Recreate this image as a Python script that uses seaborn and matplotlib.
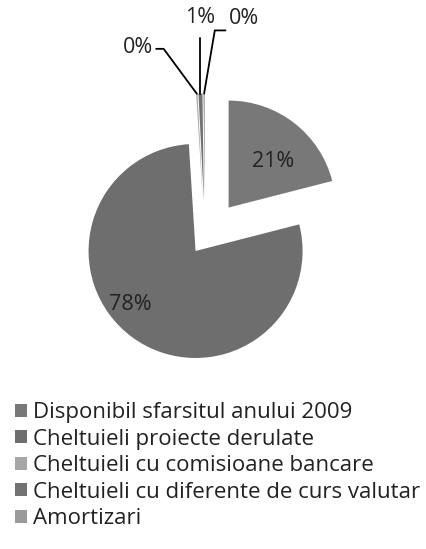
import numpy as np
import matplotlib
matplotlib.use("Agg")
import matplotlib.pyplot as plt
import seaborn as sns

categorii = ["Disponibil sfarsitul anului 2009",
             "Cheltuieli proiecte derulate",
             "Cheltuieli cu comisioane bancare",
             "Cheltuieli cu diferente de curs valutar",
             "Amortizari"]
valori = [21.0, 78.0, 0.2, 0.6, 0.2]
culori = ["#787878", "#6e6e6e", "#a6a6a6", "#727272", "#9a9a9a"]
explodare = [0.36, 0.15, 0.35, 0.35, 0.35]

sns.set_style("white")
plt.rcParams['font.family'] = ['Open Sans', 'DejaVu Sans']

fig = plt.figure(figsize=(4.27, 5.49), dpi=100)
ax = fig.add_axes([0, (549 - 380) / 549, 1, 380 / 549])

wedges, texts, autotexts = ax.pie(valori, colors=culori, explode=explodare,
                                  startangle=90, counterclock=False,
                                  autopct='%1.0f%%', pctdistance=0.62,
                                  wedgeprops=dict(linewidth=0),
                                  textprops=dict(fontsize=15.5, color='#222222'))
ax.set_aspect('auto')
ax.set_xlim(-205 / 107, (427 - 205) / 107)
ax.set_ylim((238 - 380) / 107, 238 / 107)

# etichetele felor mari
w = wedges[0]
autotexts[0].set_position((w.center[0] + 0.42, w.center[1] + 0.43))
w = wedges[1]
autotexts[1].set_position((w.center[0] - 0.61, w.center[1] - 0.50))

# felii mici: etichete cu linii de legatura
for i in [2, 3, 4]:
    w = wedges[i]
    th = np.deg2rad((w.theta1 + w.theta2) / 2)
    vx = w.center[0] + w.r * np.cos(th)
    vy = w.center[1] + w.r * np.sin(th)
    t = autotexts[i]
    if i == 2:
        ax.plot([vx, vx - 0.31, vx - 0.38], [vy, vy + 0.42, vy + 0.42],
                color='black', lw=1.3)
        t.set_position((vx - 0.55, vy + 0.43))
    elif i == 3:
        ax.plot([vx, vx], [vy, vy + 0.52], color='black', lw=1.3)
        t.set_position((vx, vy + 0.71))
    else:
        ax.plot([vx, vx + 0.10, vx + 0.20], [vy, vy + 0.59, vy + 0.59],
                color='black', lw=1.3)
        t.set_position((vx + 0.37, vy + 0.70))

fig.legend(wedges, categorii, loc='upper left', bbox_to_anchor=(0.035, 1 - 402 / 549),
           frameon=False, fontsize=16, handlelength=0.53, handleheight=0.53,
           handletextpad=0.3, labelspacing=0.25, borderaxespad=0, borderpad=0,
           labelcolor='#222222')

fig.savefig("out.png", dpi=100)
